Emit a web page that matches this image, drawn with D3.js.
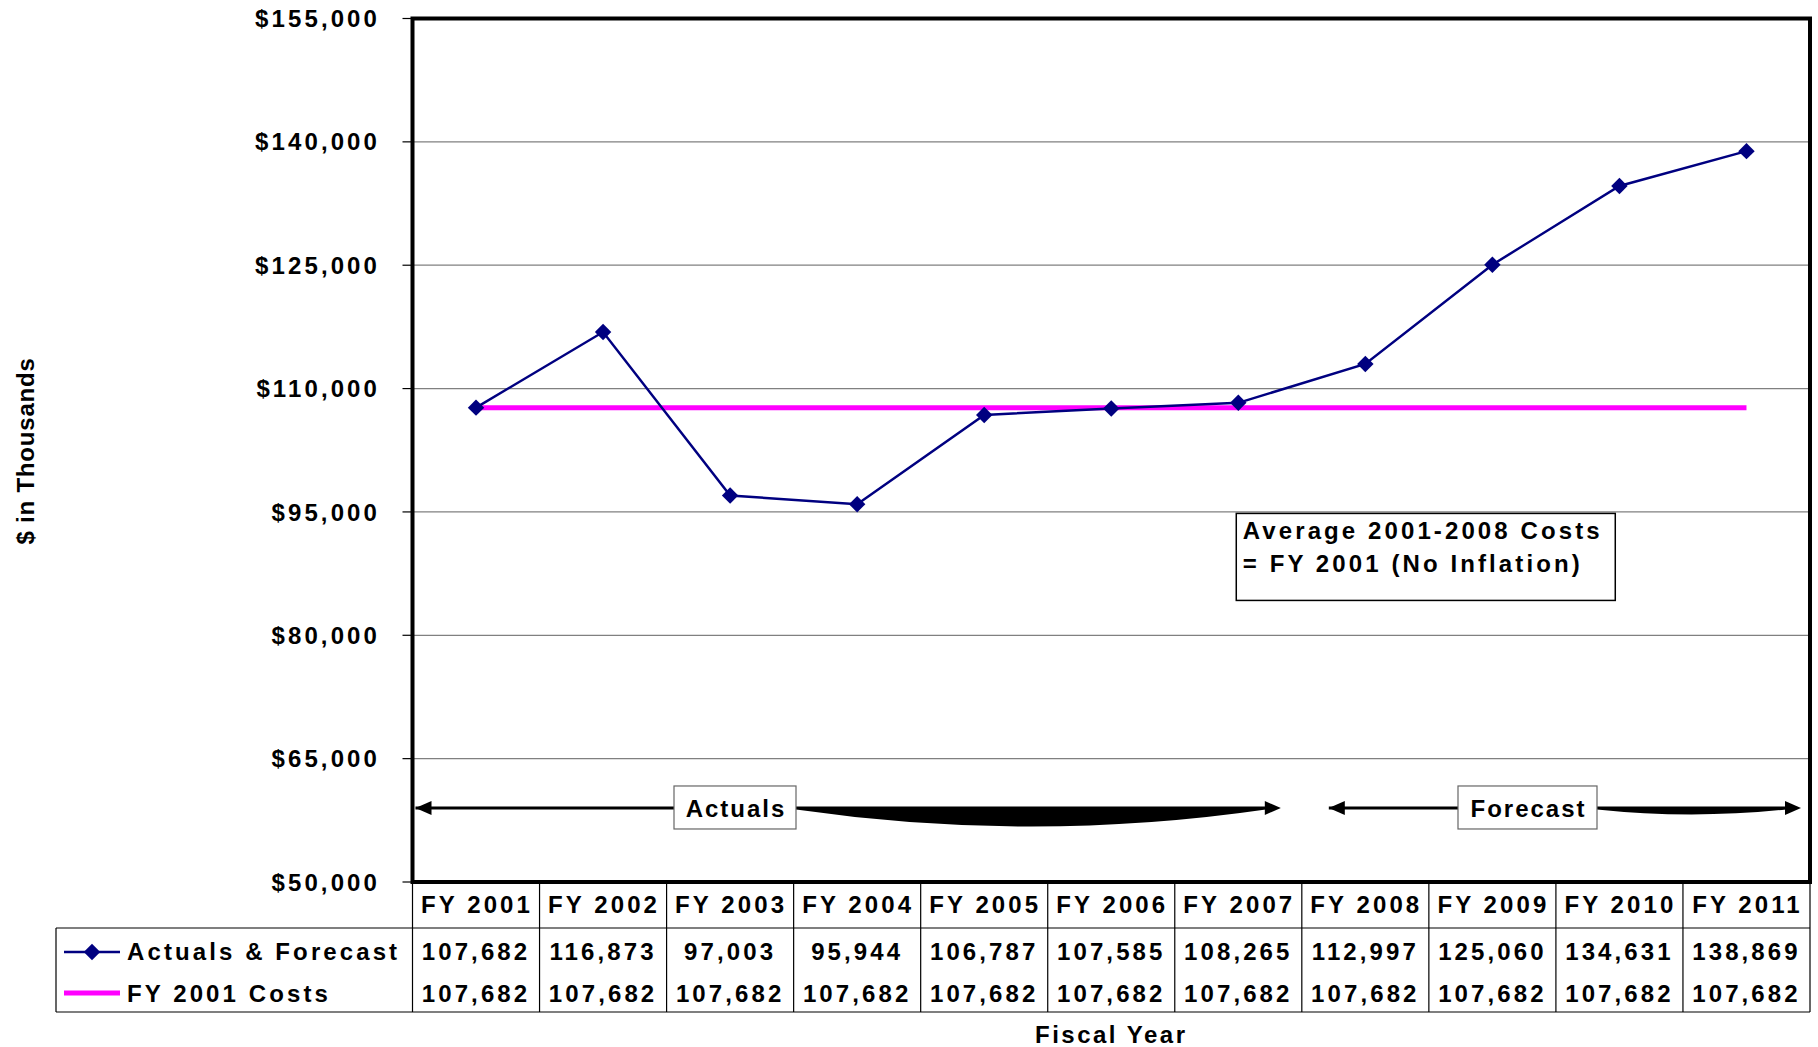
<!DOCTYPE html>
<html>
<head>
<meta charset="utf-8">
<script src="https://cdn.jsdelivr.net/npm/d3@7"></script>
<style>
  html, body { margin: 0; padding: 0; background: #fff; }
  svg text { font-family: "Liberation Sans", Arial, sans-serif; font-weight: bold; fill: #000; }
</style>
</head>
<body>
<svg id="chart" width="1818" height="1047"></svg>
<script>
// ---------- DATA ----------
const categories = ["FY 2001","FY 2002","FY 2003","FY 2004","FY 2005","FY 2006","FY 2007","FY 2008","FY 2009","FY 2010","FY 2011"];
const actualsForecast = [107682,116873,97003,95944,106787,107585,108265,112997,125060,134631,138869];
const fy2001Costs = [107682,107682,107682,107682,107682,107682,107682,107682,107682,107682,107682];
const seriesNames = ["Actuals & Forecast","FY 2001 Costs"];
const yTicks = [50000,65000,80000,95000,110000,125000,140000,155000];
const yAxisTitle = "$ in Thousands";
const xAxisTitle = "Fiscal Year";
const noteLines = ["Average 2001-2008 Costs","= FY 2001 (No Inflation)"];
const periodLabels = ["Actuals","Forecast"];

// ---------- LAYOUT ----------
const svg = d3.select("#chart");
const L = 412.5, R = 1810, T = 18.5, B = 882;
const x = d3.scaleBand().domain(categories).range([L, R]).padding(0);
const y = d3.scaleLinear().domain([50000,155000]).range([B, T]);
const cx = d => x(d) + x.bandwidth()/2;
const fmt = d3.format(",");
const LS = "3.1px";
const FS = "24px";
const markerSize = 135;

// gridlines + ticks
const gy = svg.append("g");
gy.selectAll("line.grid").data(yTicks.filter(v => v !== 155000 && v !== 50000)).enter()
  .append("line")
  .attr("x1", L).attr("x2", R)
  .attr("y1", d => y(d)).attr("y2", d => y(d))
  .attr("stroke", "#808080").attr("stroke-width", 1.2);
gy.selectAll("line.tick").data(yTicks).enter()
  .append("line")
  .attr("x1", L - 10).attr("x2", L)
  .attr("y1", d => y(d)).attr("y2", d => y(d))
  .attr("stroke", "#000").attr("stroke-width", 1.2);
gy.selectAll("text").data(yTicks).enter()
  .append("text")
  .attr("x", 380).attr("y", d => y(d)).attr("dy", "0.36em")
  .attr("text-anchor", "end")
  .style("font-size", FS).style("letter-spacing", LS)
  .text(d => "$" + fmt(d));

// y axis title
svg.append("text")
  .attr("transform", "translate(34,451) rotate(-90)")
  .attr("text-anchor", "middle")
  .style("font-size", "24px").style("letter-spacing", "0.8px")
  .text(yAxisTitle);

// FY 2001 cost line (magenta)
const line = d3.line().x((d,i) => cx(categories[i])).y(d => y(d));
svg.append("path").datum(fy2001Costs)
  .attr("d", line).attr("fill", "none")
  .attr("stroke", "#FF00FF").attr("stroke-width", 5);

// Actuals & forecast line
svg.append("path").datum(actualsForecast)
  .attr("d", line).attr("fill", "none")
  .attr("stroke", "#000080").attr("stroke-width", 2.5);
svg.selectAll("path.mk").data(actualsForecast).enter()
  .append("path")
  .attr("transform", (d,i) => `translate(${cx(categories[i])},${y(d)}) rotate(45)`)
  .attr("d", d3.symbol().type(d3.symbolSquare).size(markerSize)())
  .attr("fill", "#000080");

// plot border
svg.append("rect")
  .attr("x", L).attr("y", T).attr("width", R - L).attr("height", B - T)
  .attr("fill", "none").attr("stroke", "#000").attr("stroke-width", 4);

// note box
const nb = svg.append("g");
nb.append("rect")
  .attr("x", x("FY 2007") + 61.5).attr("y", y(95000) + 1.5)
  .attr("width", 379).attr("height", 87)
  .attr("fill", "#fff").attr("stroke", "#000").attr("stroke-width", 1.5);
nb.selectAll("text").data(noteLines).enter()
  .append("text")
  .attr("x", x("FY 2007") + 68)
  .attr("y", (d,i) => y(95000) + 27 + i * 33)
  .style("font-size", FS).style("letter-spacing", LS)
  .text(d => d);

// period arrows
const ya = y(59000);
function arrowHead(g, tip, dir) {
  g.append("path")
    .attr("d", `M${tip},${ya} L${tip - dir*16},${ya-7} L${tip - dir*16},${ya+7} Z`)
    .attr("fill", "#000");
}
function period(label, x0, bx0, bx1, x1, dip) {
  const g = svg.append("g");
  g.append("line").attr("x1", x0).attr("x2", bx0).attr("y1", ya).attr("y2", ya)
    .attr("stroke", "#000").attr("stroke-width", 3);
  arrowHead(g, x0, -1);
  const xe = x1 - 15;
  g.append("path")
    .attr("d", `M${bx1},${ya-1.5} L${xe},${ya-1.5} L${xe},${ya+1.5} Q${(bx1+xe)/2},${ya+1.5+2*dip} ${bx1},${ya+1.5} Z`)
    .attr("fill", "#000");
  arrowHead(g, x1, 1);
  g.append("rect").attr("x", bx0).attr("y", ya - 22).attr("width", bx1 - bx0).attr("height", 43)
    .attr("fill", "#fff").attr("stroke", "#666").attr("stroke-width", 1.2);
  g.append("text").attr("x", (bx0 + bx1)/2 + 1).attr("y", ya + 9)
    .attr("text-anchor", "middle")
    .style("font-size", FS).style("letter-spacing", "2px")
    .text(label);
}
period(periodLabels[0], L + 3, 674, 796, x("FY 2008") - 21, 17);
period(periodLabels[1], x("FY 2008") + 27, 1458, 1597, R - 9, 5);

// data table
const tb = svg.append("g");
const rowTop = 928, r1 = 960, r2 = 1002, tBot = 1012;
tb.append("line").attr("x1", 56).attr("x2", R).attr("y1", rowTop).attr("y2", rowTop).attr("stroke", "#000").attr("stroke-width", 1.2);
tb.append("line").attr("x1", 56).attr("x2", R).attr("y1", tBot).attr("y2", tBot).attr("stroke", "#000").attr("stroke-width", 1.2);
tb.append("line").attr("x1", 56).attr("x2", 56).attr("y1", rowTop).attr("y2", tBot).attr("stroke", "#000").attr("stroke-width", 1.2);
tb.selectAll("line.col").data(categories.concat(["end"])).enter()
  .append("line")
  .attr("x1", (d,i) => i < categories.length ? x(d) : R)
  .attr("x2", (d,i) => i < categories.length ? x(d) : R)
  .attr("y1", B).attr("y2", tBot)
  .attr("stroke", "#000").attr("stroke-width", 1.2);
tb.selectAll("text.hd").data(categories).enter()
  .append("text")
  .attr("x", d => cx(d) + 1).attr("y", 913)
  .attr("text-anchor", "middle")
  .style("font-size", FS).style("letter-spacing", LS)
  .text(d => d);
[actualsForecast, fy2001Costs].forEach((arr, k) => {
  tb.selectAll("text.v" + k).data(arr).enter()
    .append("text")
    .attr("x", (d,i) => cx(categories[i])).attr("y", k === 0 ? r1 : r2)
    .attr("text-anchor", "middle")
    .style("font-size", FS).style("letter-spacing", LS)
    .text(d => fmt(d));
});
// legend keys
const ly1 = 952, ly2 = 993;
tb.append("line").attr("x1", 64).attr("x2", 120).attr("y1", ly1).attr("y2", ly1)
  .attr("stroke", "#000080").attr("stroke-width", 2.5);
tb.append("path").attr("transform", `translate(92,${ly1}) rotate(45)`)
  .attr("d", d3.symbol().type(d3.symbolSquare).size(markerSize)()).attr("fill", "#000080");
tb.append("line").attr("x1", 64).attr("x2", 120).attr("y1", ly2).attr("y2", ly2)
  .attr("stroke", "#FF00FF").attr("stroke-width", 5);
tb.selectAll("text.lg").data(seriesNames).enter()
  .append("text")
  .attr("x", 127).attr("y", (d,i) => i === 0 ? r1 : r2)
  .style("font-size", FS).style("letter-spacing", LS)
  .text(d => d);

// x axis title
svg.append("text")
  .attr("x", (L + R)/2).attr("y", 1043)
  .attr("text-anchor", "middle")
  .style("font-size", FS).style("letter-spacing", "2.5px")
  .text(xAxisTitle);
</script>
</body>
</html>
